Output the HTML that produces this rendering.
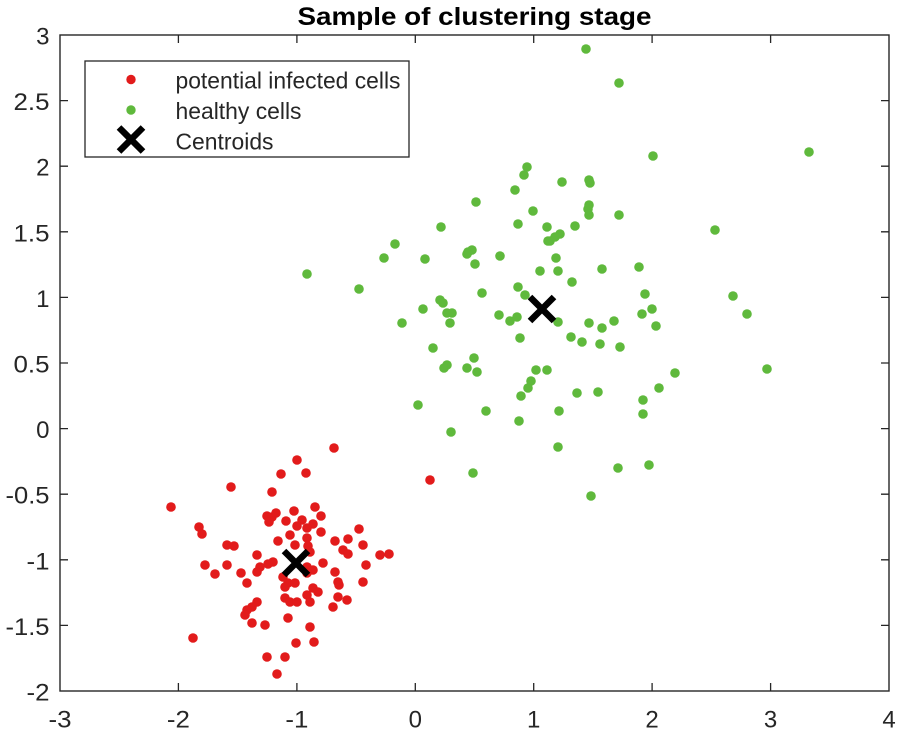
<!DOCTYPE html>
<html>
<head>
<meta charset="utf-8">
<style>
html,body{margin:0;padding:0;background:#fff;}
svg{display:block;}
text{font-family:"Liberation Sans",Arial,sans-serif;fill:#262626;}
</style>
</head>
<body>
<svg width="900" height="733" viewBox="0 0 900 733" xmlns="http://www.w3.org/2000/svg">
<rect x="0" y="0" width="900" height="733" fill="#fff"/>
<!-- title -->
<text x="474.5" y="25" text-anchor="middle" font-size="25" font-weight="bold" fill="#000" style="fill:#000" textLength="354" lengthAdjust="spacingAndGlyphs">Sample of clustering stage</text>

<!-- red points -->
<g fill="#e21b1b">
<circle cx="334" cy="448" r="4.8"/><circle cx="297" cy="460" r="4.8"/><circle cx="281" cy="474" r="4.8"/><circle cx="306" cy="473" r="4.8"/>
<circle cx="231" cy="487" r="4.8"/><circle cx="272" cy="492" r="4.8"/><circle cx="171" cy="507" r="4.8"/><circle cx="315" cy="507" r="4.8"/>
<circle cx="294" cy="511" r="4.8"/><circle cx="267" cy="516" r="4.8"/><circle cx="272" cy="517" r="4.8"/><circle cx="276" cy="513" r="4.8"/>
<circle cx="269" cy="522" r="4.8"/><circle cx="321" cy="516" r="4.8"/><circle cx="286" cy="521" r="4.8"/><circle cx="302" cy="520" r="4.8"/>
<circle cx="297" cy="526" r="4.8"/><circle cx="313" cy="524" r="4.8"/><circle cx="307" cy="528" r="4.8"/><circle cx="199" cy="527" r="4.8"/>
<circle cx="202" cy="534" r="4.8"/><circle cx="321" cy="532" r="4.8"/><circle cx="359" cy="529" r="4.8"/><circle cx="290" cy="535" r="4.8"/>
<circle cx="307" cy="538" r="4.8"/><circle cx="278" cy="541" r="4.8"/><circle cx="335" cy="541" r="4.8"/><circle cx="348" cy="539" r="4.8"/>
<circle cx="227" cy="545" r="4.8"/><circle cx="234" cy="546" r="4.8"/><circle cx="295" cy="545" r="4.8"/><circle cx="308" cy="546" r="4.8"/>
<circle cx="363" cy="545" r="4.8"/><circle cx="343" cy="550" r="4.8"/><circle cx="348" cy="554" r="4.8"/><circle cx="257" cy="555" r="4.8"/>
<circle cx="380" cy="555" r="4.8"/><circle cx="389" cy="554" r="4.8"/><circle cx="310" cy="552" r="4.8"/><circle cx="273" cy="562" r="4.8"/>
<circle cx="268" cy="564" r="4.8"/><circle cx="260" cy="567" r="4.8"/><circle cx="257" cy="572" r="4.8"/><circle cx="205" cy="565" r="4.8"/>
<circle cx="227" cy="565" r="4.8"/><circle cx="215" cy="574" r="4.8"/><circle cx="241" cy="573" r="4.8"/><circle cx="366" cy="565" r="4.8"/>
<circle cx="323" cy="563" r="4.8"/><circle cx="307" cy="567" r="4.8"/><circle cx="313" cy="570" r="4.8"/><circle cx="307" cy="573" r="4.8"/>
<circle cx="335" cy="572" r="4.8"/><circle cx="338" cy="582" r="4.8"/><circle cx="339" cy="585" r="4.8"/><circle cx="247" cy="583" r="4.8"/>
<circle cx="283" cy="577" r="4.8"/><circle cx="288" cy="583" r="4.8"/><circle cx="295" cy="583" r="4.8"/><circle cx="285" cy="587" r="4.8"/>
<circle cx="363" cy="582" r="4.8"/><circle cx="313" cy="588" r="4.8"/><circle cx="318" cy="592" r="4.8"/><circle cx="307" cy="595" r="4.8"/>
<circle cx="285" cy="598" r="4.8"/><circle cx="290" cy="602" r="4.8"/><circle cx="297" cy="602" r="4.8"/><circle cx="310" cy="602" r="4.8"/>
<circle cx="338" cy="597" r="4.8"/><circle cx="347" cy="600" r="4.8"/><circle cx="333" cy="607" r="4.8"/><circle cx="257" cy="602" r="4.8"/>
<circle cx="252" cy="607" r="4.8"/><circle cx="247" cy="610" r="4.8"/><circle cx="245" cy="615" r="4.8"/><circle cx="288" cy="618" r="4.8"/>
<circle cx="252" cy="623" r="4.8"/><circle cx="265" cy="625" r="4.8"/><circle cx="310" cy="627" r="4.8"/><circle cx="193" cy="638" r="4.8"/>
<circle cx="296" cy="643" r="4.8"/><circle cx="314" cy="642" r="4.8"/><circle cx="267" cy="657" r="4.8"/><circle cx="285" cy="657" r="4.8"/>
<circle cx="277" cy="674" r="4.8"/><circle cx="430" cy="480" r="4.8"/>
</g>

<!-- green points -->
<g fill="#5fb93c">
<circle cx="586" cy="49" r="4.8"/><circle cx="619" cy="83" r="4.8"/><circle cx="653" cy="156" r="4.8"/><circle cx="809" cy="152" r="4.8"/>
<circle cx="527" cy="167" r="4.8"/><circle cx="524" cy="175" r="4.8"/><circle cx="515" cy="190" r="4.8"/><circle cx="476" cy="202" r="4.8"/>
<circle cx="533" cy="211" r="4.8"/><circle cx="518" cy="224" r="4.8"/><circle cx="547" cy="227" r="4.8"/><circle cx="441" cy="227" r="4.8"/>
<circle cx="548" cy="241" r="4.8"/><circle cx="395" cy="244" r="4.8"/><circle cx="384" cy="258" r="4.8"/><circle cx="425" cy="259" r="4.8"/>
<circle cx="468" cy="252" r="4.8"/><circle cx="472" cy="250" r="4.8"/><circle cx="467" cy="254" r="4.8"/><circle cx="475" cy="264" r="4.8"/>
<circle cx="500" cy="256" r="4.8"/><circle cx="307" cy="274" r="4.8"/><circle cx="540" cy="271" r="4.8"/><circle cx="359" cy="289" r="4.8"/>
<circle cx="518" cy="287" r="4.8"/><circle cx="482" cy="293" r="4.8"/><circle cx="525" cy="295" r="4.8"/><circle cx="440" cy="300" r="4.8"/>
<circle cx="443" cy="303" r="4.8"/><circle cx="423" cy="309" r="4.8"/><circle cx="447" cy="313" r="4.8"/><circle cx="452" cy="313" r="4.8"/>
<circle cx="450" cy="323" r="4.8"/><circle cx="499" cy="315" r="4.8"/><circle cx="510" cy="321" r="4.8"/><circle cx="517" cy="317" r="4.8"/>
<circle cx="402" cy="323" r="4.8"/><circle cx="520" cy="338" r="4.8"/><circle cx="433" cy="348" r="4.8"/><circle cx="474" cy="358" r="4.8"/>
<circle cx="447" cy="365" r="4.8"/><circle cx="444" cy="368" r="4.8"/><circle cx="467" cy="368" r="4.8"/><circle cx="477" cy="372" r="4.8"/>
<circle cx="536" cy="370" r="4.8"/><circle cx="547" cy="370" r="4.8"/><circle cx="531" cy="381" r="4.8"/><circle cx="528" cy="388" r="4.8"/>
<circle cx="521" cy="396" r="4.8"/><circle cx="418" cy="405" r="4.8"/><circle cx="486" cy="411" r="4.8"/><circle cx="519" cy="421" r="4.8"/>
<circle cx="451" cy="432" r="4.8"/><circle cx="473" cy="473" r="4.8"/>
<circle cx="562" cy="182" r="4.8"/><circle cx="589" cy="180" r="4.8"/><circle cx="590" cy="183" r="4.8"/><circle cx="589" cy="205" r="4.8"/>
<circle cx="588" cy="209" r="4.8"/><circle cx="589" cy="215" r="4.8"/><circle cx="619" cy="215" r="4.8"/><circle cx="575" cy="226" r="4.8"/>
<circle cx="560" cy="234" r="4.8"/><circle cx="555" cy="237" r="4.8"/><circle cx="550" cy="241" r="4.8"/><circle cx="715" cy="230" r="4.8"/>
<circle cx="556" cy="258" r="4.8"/><circle cx="558" cy="271" r="4.8"/><circle cx="602" cy="269" r="4.8"/><circle cx="639" cy="267" r="4.8"/>
<circle cx="572" cy="282" r="4.8"/><circle cx="733" cy="296" r="4.8"/><circle cx="645" cy="294" r="4.8"/><circle cx="652" cy="309" r="4.8"/>
<circle cx="642" cy="314" r="4.8"/><circle cx="558" cy="322" r="4.8"/><circle cx="589" cy="323" r="4.8"/><circle cx="602" cy="328" r="4.8"/>
<circle cx="614" cy="321" r="4.8"/><circle cx="656" cy="326" r="4.8"/><circle cx="571" cy="337" r="4.8"/><circle cx="582" cy="342" r="4.8"/>
<circle cx="600" cy="344" r="4.8"/><circle cx="620" cy="347" r="4.8"/><circle cx="675" cy="373" r="4.8"/><circle cx="659" cy="388" r="4.8"/>
<circle cx="577" cy="393" r="4.8"/><circle cx="598" cy="392" r="4.8"/><circle cx="643" cy="400" r="4.8"/><circle cx="643" cy="414" r="4.8"/>
<circle cx="559" cy="411" r="4.8"/><circle cx="558" cy="447" r="4.8"/><circle cx="618" cy="468" r="4.8"/><circle cx="649" cy="465" r="4.8"/>
<circle cx="591" cy="496" r="4.8"/><circle cx="747" cy="314" r="4.8"/><circle cx="767" cy="369" r="4.8"/>
</g>

<!-- centroids -->
<g stroke="#000" stroke-width="6.5" fill="none">
<path d="M284 551 L308 575 M308 551 L284 575"/>
<path d="M530 297 L554 321 M554 297 L530 321"/>
</g>

<!-- axes box -->
<rect x="60" y="35" width="829" height="656" fill="none" stroke="#262626" stroke-width="1.4"/>
<g stroke="#262626" stroke-width="1.3">
<!-- x ticks bottom & top -->
<path d="M178.4 691v-8M296.9 691v-8M415.3 691v-8M533.7 691v-8M652.1 691v-8M770.6 691v-8"/>
<path d="M178.4 35v8M296.9 35v8M415.3 35v8M533.7 35v8M652.1 35v8M770.6 35v8"/>
<!-- y ticks left & right -->
<path d="M60 100.6h8M60 166.2h8M60 231.8h8M60 297.4h8M60 363h8M60 428.6h8M60 494.2h8M60 559.8h8M60 625.4h8"/>
<path d="M889 100.6h-8M889 166.2h-8M889 231.8h-8M889 297.4h-8M889 363h-8M889 428.6h-8M889 494.2h-8M889 559.8h-8M889 625.4h-8"/>
</g>

<!-- y tick labels -->
<g font-size="24" text-anchor="end">
<text x="49.5" y="44.5">3</text>
<text x="49.5" y="110.1" textLength="36" lengthAdjust="spacingAndGlyphs">2.5</text>
<text x="49.5" y="175.7">2</text>
<text x="49.5" y="241.3" textLength="36" lengthAdjust="spacingAndGlyphs">1.5</text>
<text x="49.5" y="306.9">1</text>
<text x="49.5" y="372.5" textLength="36" lengthAdjust="spacingAndGlyphs">0.5</text>
<text x="49.5" y="438.1">0</text>
<text x="49.5" y="503.7" textLength="44" lengthAdjust="spacingAndGlyphs">-0.5</text>
<text x="49.5" y="569.3" textLength="23" lengthAdjust="spacingAndGlyphs">-1</text>
<text x="49.5" y="634.9" textLength="44" lengthAdjust="spacingAndGlyphs">-1.5</text>
<text x="49.5" y="700.5" textLength="23" lengthAdjust="spacingAndGlyphs">-2</text>
</g>

<!-- x tick labels -->
<g font-size="24" text-anchor="middle">
<text x="60" y="727.5" textLength="23" lengthAdjust="spacingAndGlyphs">-3</text>
<text x="178.4" y="727.5" textLength="23" lengthAdjust="spacingAndGlyphs">-2</text>
<text x="296.9" y="727.5" textLength="23" lengthAdjust="spacingAndGlyphs">-1</text>
<text x="415.3" y="727.5">0</text>
<text x="533.7" y="727.5">1</text>
<text x="652.1" y="727.5">2</text>
<text x="770.6" y="727.5">3</text>
<text x="889" y="727.5">4</text>
</g>

<!-- legend -->
<rect x="85" y="61" width="324" height="96" fill="#fff" stroke="#262626" stroke-width="1.3"/>
<circle cx="131" cy="79.5" r="4.7" fill="#e21b1b"/>
<circle cx="131" cy="110" r="4.7" fill="#5fb93c"/>
<path d="M119 127.5 L143 151.5 M143 127.5 L119 151.5" stroke="#000" stroke-width="6.5" fill="none"/>
<g font-size="23">
<text x="175.5" y="88.5" textLength="225" lengthAdjust="spacingAndGlyphs">potential infected cells</text>
<text x="175.5" y="119" textLength="126" lengthAdjust="spacingAndGlyphs">healthy cells</text>
<text x="175.5" y="149.5" textLength="98" lengthAdjust="spacingAndGlyphs">Centroids</text>
</g>
</svg>
</body>
</html>
